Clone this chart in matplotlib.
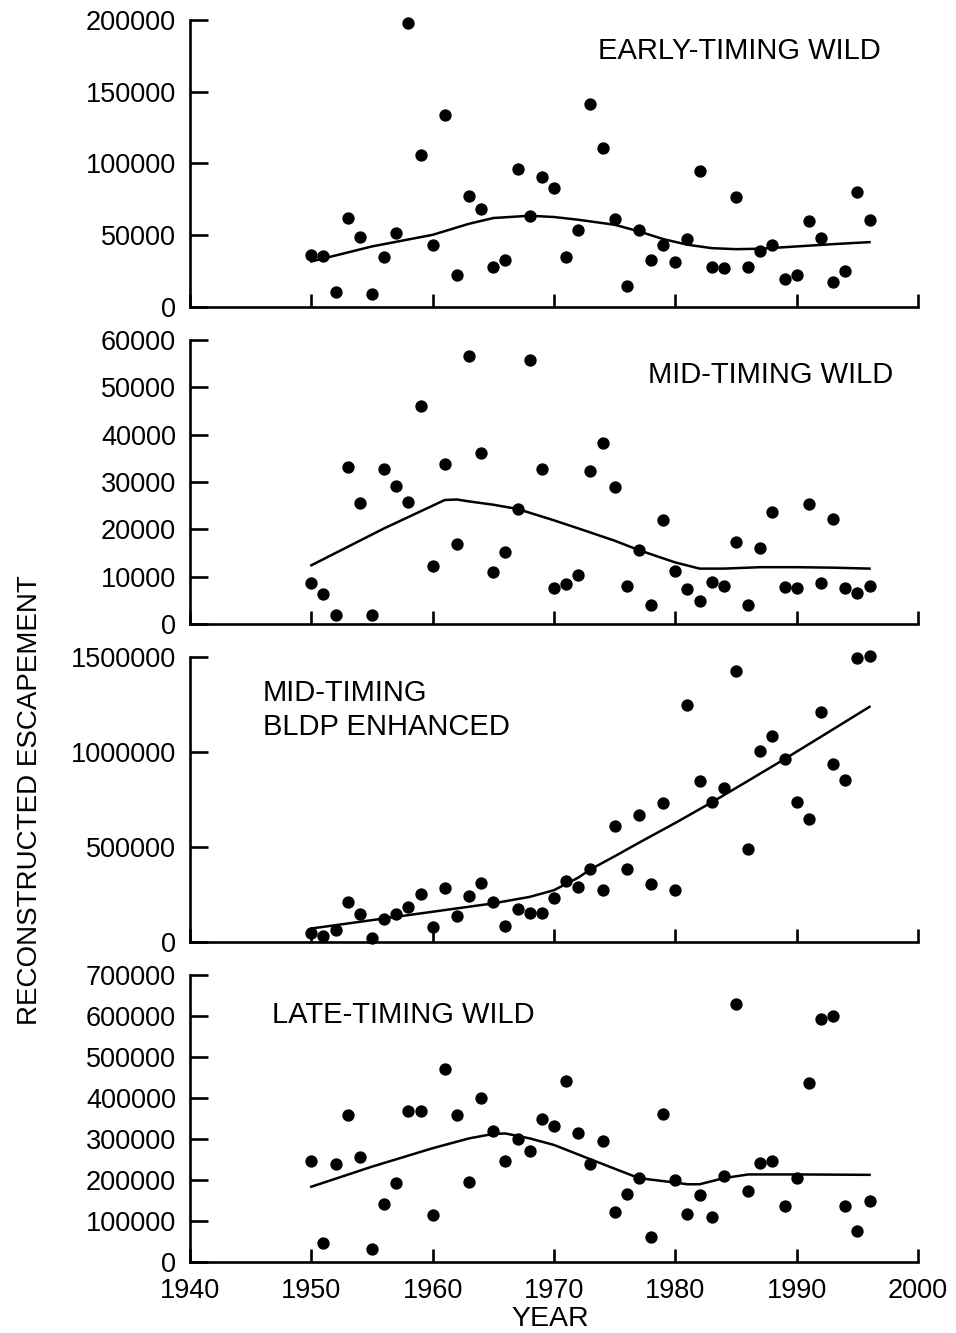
import numpy as np
import matplotlib
matplotlib.use('Agg')
from matplotlib import pyplot as plt
from matplotlib.ticker import FormatStrFormatter

plt.rcParams['font.family'] = ['Liberation Sans', 'DejaVu Sans']

years = list(range(1950, 1997))

# escapement, one value per year 1950-1996
early_wild = [36400, 35700, 10700, 62000, 48700, 8900, 34700, 51500, 197700, 105600,
              42900, 134000, 22400, 77600, 68500, 28200, 32900, 96500, 63100, 90400,
              83000, 34700, 53800, 141200, 111000, 61500, 14700, 53800, 32900, 42900,
              31200, 47300, 95100, 27700, 27500, 76700, 27700, 38700, 43400, 19400,
              22400, 59700, 48000, 17300, 25400, 80000, 60300]
mid_wild = [8700, 6300, 1900, 33200, 25500, 1900, 32700, 29100, 25800, 46100,
            12300, 33800, 16900, 56600, 36100, 11000, 15300, 24400, 55700, 32700,
            7500, 8400, 10300, 32300, 38300, 29000, 8100, 15600, 4000, 21900,
            11200, 7300, 4900, 8900, 8100, 17400, 4000, 16000, 23700, 7900,
            7500, 25300, 8600, 22100, 7700, 6600, 8100]
mid_bldp = [47000, 35000, 65000, 210000, 147000, 24000, 121000, 147000, 187000, 253000,
            82000, 283000, 140000, 245000, 313000, 213000, 86000, 173000, 152000, 152000,
            231000, 323000, 289000, 383000, 274000, 610000, 385000, 668000, 304000, 729000,
            274000, 1245000, 848000, 735000, 808000, 1423000, 490000, 1005000, 1084000, 962000,
            738000, 647000, 1207000, 936000, 852000, 1490000, 1502000]
late_wild = [246000, 46000, 239000, 357000, 255000, 30000, 141000, 191000, 368000, 368000,
             114000, 470000, 357000, 195000, 399000, 319000, 246000, 300000, 269000, 348000,
             331000, 440000, 313000, 239000, 295000, 122000, 165000, 204000, 61000, 361000,
             200000, 116000, 163000, 108000, 208000, 629000, 173000, 242000, 246000, 137000,
             204000, 437000, 593000, 600000, 137000, 75000, 149000]

# smoothed trend lines
fit1_years = [1950, 1955, 1960, 1963, 1965, 1968, 1970, 1972, 1975, 1977, 1979, 1981,
              1983, 1985, 1987, 1990, 1993, 1996]
fit1 = [31700, 42200, 50300, 58000, 62000, 63600, 62700, 60800, 57300, 52700, 47300, 43400,
        41000, 40300, 40600, 42200, 43800, 45200]
fit2_years = [1950, 1956, 1961, 1962, 1963, 1965, 1967, 1970, 1972, 1975, 1977, 1980,
              1982, 1984, 1987, 1990, 1993, 1996]
fit2 = [12400, 20200, 26200, 26300, 25900, 25200, 24300, 21900, 20200, 17600, 15600, 13000,
        11700, 11700, 12000, 12000, 11900, 11700]
fit3_years = [1950, 1955, 1960, 1965, 1968, 1970, 1972, 1973, 1975, 1977, 1980, 1983,
              1986, 1989, 1992, 1996]
fit3 = [73000, 117000, 161000, 205000, 239000, 274000, 340000, 383000, 452000, 523000, 627000, 735000,
        848000, 962000, 1079000, 1236000]
fit4_years = [1950, 1955, 1960, 1963, 1965, 1966, 1968, 1970, 1973, 1975, 1977, 1980,
              1981, 1982, 1984, 1986, 1990, 1996]
fit4 = [183000, 232000, 277000, 301000, 312000, 313000, 301000, 285000, 250000, 227000, 204000, 193000,
        189000, 189000, 204000, 213000, 213000, 212000]

panel_titles = ['EARLY-TIMING WILD', 'MID-TIMING WILD', 'MID-TIMING\nBLDP ENHANCED', 'LATE-TIMING WILD']
y_tops = [200000, 60000, 1500000, 700000]
y_steps = [50000, 10000, 500000, 100000]
x_ticks = [1940, 1950, 1960, 1970, 1980, 1990, 2000]

series = [early_wild, mid_wild, mid_bldp, late_wild]
fits = [(fit1_years, fit1), (fit2_years, fit2), (fit3_years, fit3), (fit4_years, fit4)]

# axes boxes in figure fractions [left, bottom, width, height]
boxes = [[0.1987, 0.7697, 0.7616, 0.2153],
         [0.1987, 0.5319, 0.7616, 0.2130],
         [0.1987, 0.2930, 0.7616, 0.2145],
         [0.1987, 0.0535, 0.7616, 0.2151]]
title_pos = [(0.755, 0.892, 'center'), (0.798, 0.877, 'center'),
             (0.100, 0.813, 'left'), (0.293, 0.861, 'center')]

fig = plt.figure(figsize=(9.56, 13.33), dpi=100)

for i in range(4):
    ax = fig.add_axes(boxes[i])
    ax.scatter(years, series[i], s=62, color='black', zorder=3, clip_on=False)
    ax.plot(fits[i][0], fits[i][1], color='black', lw=1.8)
    ax.set_xlim(1940, 2000)
    ax.set_ylim(0, y_tops[i])
    ax.set_yticks(np.arange(0, y_tops[i] + 1, y_steps[i]))
    ax.yaxis.set_major_formatter(FormatStrFormatter('%d'))
    ax.set_xticks(x_ticks)
    ax.spines['top'].set_visible(False)
    ax.spines['right'].set_visible(False)
    ax.spines['left'].set_linewidth(1.9)
    ax.spines['bottom'].set_linewidth(1.9)
    ax.tick_params(axis='y', direction='in', length=13, width=1.9, labelsize=19.5, pad=10)
    ax.tick_params(axis='x', direction='in', length=9.5, width=1.9, labelsize=19.5, pad=12)
    if i < 3:
        ax.set_xticklabels([])
    tx, ty, ha = title_pos[i]
    ax.text(tx, ty, panel_titles[i], transform=ax.transAxes, ha=ha, va='center',
            fontsize=21, linespacing=1.3)

fig.text(0.031, 0.3998, 'RECONSTRUCTED ESCAPEMENT', rotation=90, ha='center', va='center', fontsize=20)
fig.text(0.576, 0.0105, 'YEAR', ha='center', va='center', fontsize=20.5)

fig.savefig('out.png', dpi=100)
